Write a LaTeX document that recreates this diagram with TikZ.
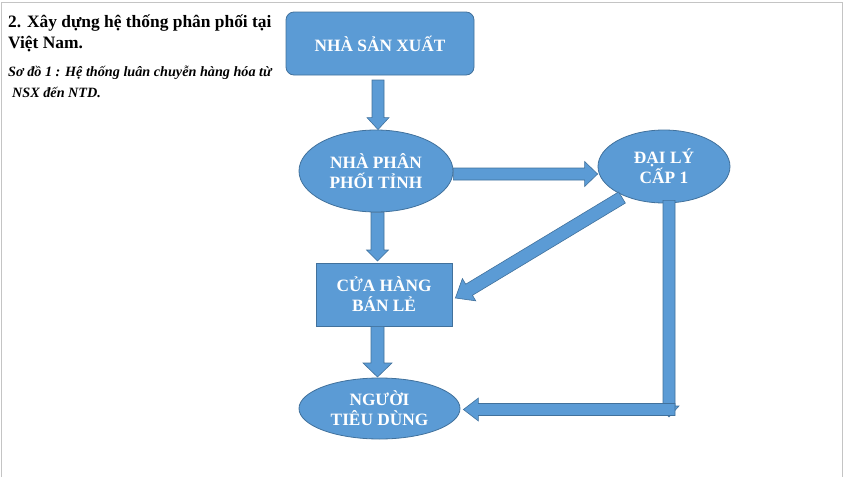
\documentclass[tikz,border=0pt]{standalone}
\usepackage{fontspec}
\setmainfont{Liberation Serif}
\usetikzlibrary{calc,shapes.geometric}
\definecolor{fillblue}{HTML}{5B9BD5}
\definecolor{edgeblue}{HTML}{41719C}
\definecolor{framegray}{HTML}{C4C4C4}
\tikzset{
  nodetext/.style={text=white, align=center, inner sep=0pt,
    font=\fontsize{17.3}{20}\selectfont\bfseries},
  boxsty/.style={nodetext, rectangle, fill=fillblue, draw=edgeblue, line width=0.8pt},
  ellsty/.style={nodetext, ellipse, fill=fillblue, draw=edgeblue, line width=0.8pt},
  arrowsty/.style={fill=fillblue, draw=edgeblue, line width=0.6pt, line join=miter},
  titlesty/.style={anchor=base west, inner sep=0pt, font=\fontsize{17.4}{20}\selectfont\bfseries},
  substy/.style={anchor=base west, inner sep=0pt, font=\fontsize{14.2}{16}\selectfont\bfseries\itshape}
}
% block arrow: start, end, shaft half width, head half width, head length
\newcommand\blockarr[5]{%
  \coordinate (bh) at ($(#2)!#5!(#1)$);
  \draw[arrowsty] ($(#1)!#3!90:(#2)$) -- ($(bh)!#3!-90:(#1)$) -- ($(bh)!#4!-90:(#1)$)
    -- (#2) -- ($(bh)!#4!90:(#1)$) -- ($(bh)!#3!90:(#1)$) -- ($(#1)!#3!-90:(#2)$) -- cycle;}
\begin{document}
\begin{tikzpicture}[x=1pt,y=-1pt]
\useasboundingbox (0,0) rectangle (844,477);
\draw[framegray, line width=1pt] (1.5,477) -- (1.5,2.5) -- (842,2.5) -- (842,477);

% title
\node[titlesty] (t1) at (8,27) {2. Xây dựng hệ thống phân phối tại};
\node[titlesty] (t2) at (8,48) {Việt Nam.};
\node[substy] (t3) at (8,76) {Sơ đồ 1 : Hệ thống luân chuyễn hàng hóa từ};
\node[substy] (t4) at (12,97) {NSX đến NTD.};

% nodes
\node[boxsty, rounded corners=8pt, minimum width=188pt, minimum height=63pt] (nsx) at (380,43.5) {NHÀ SẢN XUẤT};
\node[ellsty, minimum width=154pt, minimum height=82pt] (npp) at (376,171) {NHÀ PHÂN\\PHỐI TỈNH};
\node[ellsty, minimum width=132pt, minimum height=73pt] (dl) at (664,166.5) {ĐẠI LÝ\\CẤP 1};
\node[boxsty, minimum width=136pt, minimum height=63pt] (ch) at (384,294.5) {CỬA HÀNG\\BÁN LẺ};
\node[ellsty, minimum width=161pt, minimum height=61pt] (ntd) at (379.5,408.5) {NGƯỜI\\TIÊU DÙNG};

% connectors
\coordinate (a1s) at (378,80);
\coordinate (a1e) at (a1s |- npp.north);
\blockarr{a1s}{a1e}{6pt}{11pt}{12pt}

\coordinate (a2s) at (npp.east |- 0,174);
\coordinate (a2e) at (dl.west |- 0,174);
\blockarr{a2s}{a2e}{6pt}{12.5pt}{13pt}

\coordinate (a3s) at (npp.south -| 377.5,0);
\coordinate (a3e) at (377.5,261);
\blockarr{a3s}{a3e}{6.5pt}{11pt}{11pt}

\coordinate (a4s) at (ch.south -| 377.5,0);
\coordinate (a4e) at (377.5,377);
\blockarr{a4s}{a4e}{6.5pt}{14.5pt}{14pt}

\coordinate (a5s) at ($(dl.center)+(-42,31)$);
\coordinate (a5e) at ($(ch.east)+(3,3.5)$);
\blockarr{a5s}{a5e}{6.5pt}{13pt}{16pt}

\coordinate (a6s) at ($(dl.south)+(5,-3)$);
\coordinate (a6e) at (669,417);
\blockarr{a6s}{a6e}{6pt}{10pt}{11pt}

\coordinate (a7s) at (675,409.5);
\coordinate (a7e) at ($(ntd.east)+(3,1)$);
\blockarr{a7s}{a7e}{6pt}{11.5pt}{15pt}
\end{tikzpicture}
\end{document}
